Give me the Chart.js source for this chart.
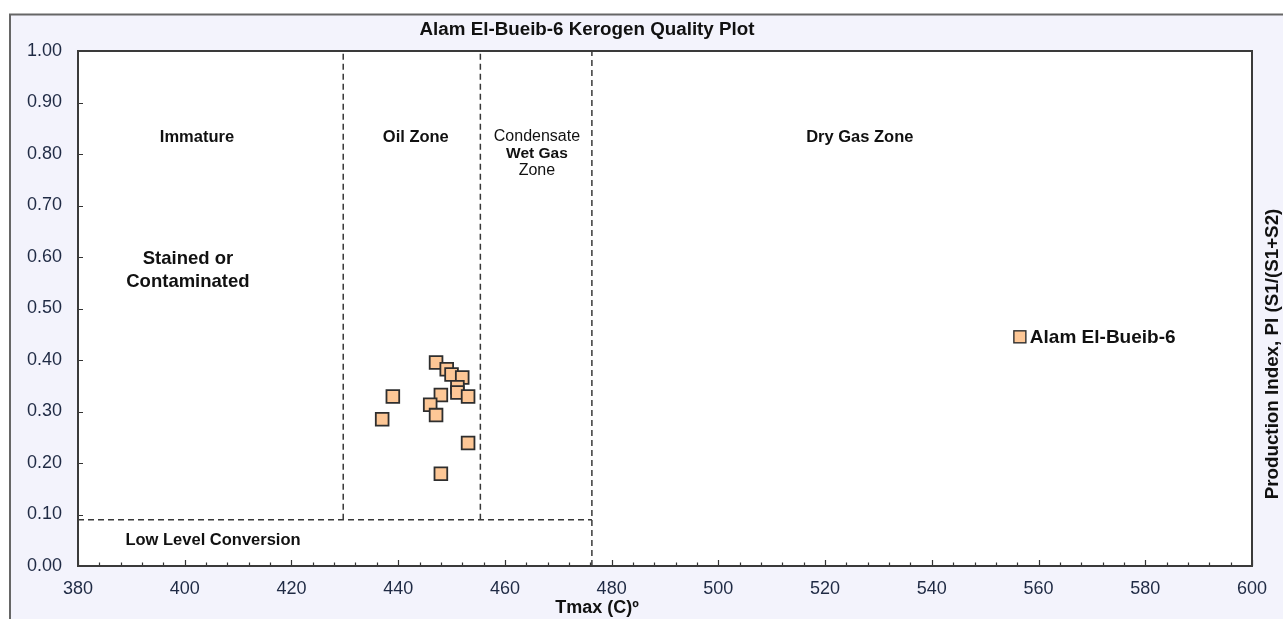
<!DOCTYPE html>
<html>
<head>
<meta charset="utf-8">
<script src="https://cdn.jsdelivr.net/npm/chart.js@4.4.0/dist/chart.umd.min.js"></script>
<style>
  html, body { margin: 0; padding: 0; background: #ffffff; }
  #wrap { width: 1283px; height: 619px; }
</style>
</head>
<body>
<div id="wrap"><canvas id="plot" width="1283" height="619"></canvas></div>
<script>
// Sample measurements, Alam El-Bueib-6
const tmaxValues = [447.1, 449.1, 450.0, 452.0, 451.1, 451.1, 453.1, 448.0, 439.0, 446.0, 447.1, 437.0, 453.1, 448.0];
const piValues   = [0.395, 0.382, 0.372, 0.366, 0.347, 0.337, 0.329, 0.332, 0.329, 0.313, 0.293, 0.285, 0.239, 0.179];

// Maturity zone limits (Tmax, °C) and low-conversion PI cut-off
const zoneBoundaries = [429.7, 455.4, 476.3];
const lowConversionPI = 0.09;

// Axis ranges and tick steps
const tmaxRange = [380, 600];
const tmaxStep = 20;
const tmaxMinorStep = 4;
const piRange = [0, 1];
const piStep = 0.1;

const seriesName = 'Alam El-Bueib-6';
const chartTitle = 'Alam El-Bueib-6 Kerogen Quality Plot';
const xTitle = 'Tmax (C)º';
const yTitle = 'Production Index, PI (S1/(S1+S2)';

const FONT = '"Liberation Sans", Arial, sans-serif';
const TICK_COLOR = '#1f2a44';
const LINE_COLOR = '#383838';
const MARKER_FILL = '#fdc796';
const MARKER_EDGE = '#2e2e2e';

// Zone annotations, anchored in data units
const zoneLabels = [
  { lines: [['Immature', 'bold 16.5px']], x: 402.3, y: 0.833 },
  { lines: [['Oil Zone', 'bold 16.5px']], x: 443.3, y: 0.833 },
  { lines: [['Condensate', '16px'], ['Wet Gas', 'bold 15.5px'], ['Zone', '16px']], x: 466.0, y: 0.833, lineGap: 17 },
  { lines: [['Dry Gas Zone', 'bold 16.5px']], x: 526.5, y: 0.833 },
  { lines: [['Stained or', 'bold 18.5px'], ['Contaminated', 'bold 18.5px']], x: 400.6, y: 0.596, lineGap: 23 },
  { lines: [['Low Level Conversion', 'bold 16.5px']], x: 405.3, y: 0.05 }
];

const points = tmaxValues.map((t, i) => ({ x: t, y: piValues[i] }));

// Dashed zone boundary segments
const boundarySets = [
  [{ x: zoneBoundaries[0], y: lowConversionPI }, { x: zoneBoundaries[0], y: piRange[1] }],
  [{ x: zoneBoundaries[1], y: lowConversionPI }, { x: zoneBoundaries[1], y: piRange[1] }],
  [{ x: zoneBoundaries[2], y: piRange[0] }, { x: zoneBoundaries[2], y: piRange[1] }],
  [{ x: tmaxRange[0], y: lowConversionPI }, { x: zoneBoundaries[2], y: lowConversionPI }]
].map(seg => ({
  type: 'line',
  data: seg,
  borderColor: LINE_COLOR,
  borderWidth: 1.5,
  borderDash: [6, 4],
  pointRadius: 0,
  fill: false,
  order: 1
}));

const decorations = {
  id: 'decorations',
  beforeDraw(chart) {
    const ctx = chart.ctx;
    const a = chart.chartArea;
    ctx.save();
    ctx.fillStyle = '#ffffff';
    ctx.fillRect(0, 0, chart.width, chart.height);
    // outer frame
    ctx.fillStyle = '#f3f3fc';
    ctx.fillRect(10, 14.5, chart.width - 10, chart.height - 14.5);
    ctx.strokeStyle = '#666666';
    ctx.lineWidth = 2;
    ctx.beginPath();
    ctx.moveTo(10, chart.height + 2);
    ctx.lineTo(10, 14.5);
    ctx.lineTo(chart.width + 2, 14.5);
    ctx.stroke();
    // plot area
    ctx.fillStyle = '#ffffff';
    ctx.fillRect(a.left, a.top, a.right - a.left, a.bottom - a.top);
    ctx.restore();
  },
  beforeDatasetsDraw(chart) {
    const ctx = chart.ctx;
    ctx.save();
    ctx.fillStyle = '#111111';
    ctx.textAlign = 'center';
    ctx.textBaseline = 'middle';
    const xs = chart.scales.x, ys = chart.scales.y;
    zoneLabels.forEach(lab => {
      const cx = xs.getPixelForValue(lab.x);
      const cy = ys.getPixelForValue(lab.y);
      const gap = lab.lineGap || 0;
      lab.lines.forEach(([txt, f], i) => {
        ctx.font = f + ' ' + FONT;
        ctx.fillText(txt, cx, cy + i * gap);
      });
    });
    ctx.restore();
  },
  afterDraw(chart) {
    const ctx = chart.ctx;
    const a = chart.chartArea;
    const xs = chart.scales.x, ys = chart.scales.y;
    ctx.save();
    // tick marks pointing into the plot
    ctx.strokeStyle = '#333333';
    ctx.lineWidth = 1.2;
    ctx.beginPath();
    for (let v = tmaxRange[0]; v <= tmaxRange[1] + 1e-6; v += tmaxMinorStep) {
      const px = Math.round(xs.getPixelForValue(v)) + 0.5;
      const major = Math.abs((v - tmaxRange[0]) % tmaxStep) < 1e-6;
      ctx.moveTo(px, a.bottom);
      ctx.lineTo(px, a.bottom - (major ? 6 : 3.5));
    }
    for (let v = piRange[0]; v <= piRange[1] + 1e-6; v += piStep) {
      const py = Math.round(ys.getPixelForValue(v)) + 0.5;
      ctx.moveTo(a.left, py);
      ctx.lineTo(a.left + 5, py);
    }
    ctx.stroke();
    // plot border
    ctx.strokeStyle = '#3a3a3a';
    ctx.lineWidth = 2;
    ctx.strokeRect(a.left, a.top, a.right - a.left, a.bottom - a.top);

    // title and axis titles
    ctx.fillStyle = '#111111';
    ctx.textAlign = 'center';
    ctx.textBaseline = 'middle';
    ctx.font = 'bold 18.8px ' + FONT;
    ctx.fillText(chartTitle, 587, 30);
    ctx.font = 'bold 18px ' + FONT;
    ctx.fillText(xTitle, 597, 608);
    ctx.save();
    ctx.translate(1273, 354);
    ctx.rotate(-Math.PI / 2);
    ctx.font = 'bold 18.8px ' + FONT;
    ctx.fillText(yTitle, 0, 0);
    ctx.restore();

    // legend
    const lx = xs.getPixelForValue(556.5);
    const ly = ys.getPixelForValue(0.445);
    ctx.fillStyle = MARKER_FILL;
    ctx.strokeStyle = MARKER_EDGE;
    ctx.lineWidth = 1.4;
    ctx.fillRect(lx - 6, ly - 6, 12, 12);
    ctx.strokeRect(lx - 6, ly - 6, 12, 12);
    ctx.fillStyle = '#111111';
    ctx.textAlign = 'left';
    ctx.font = 'bold 19px ' + FONT;
    ctx.fillText(seriesName, lx + 10, ly + 1);
    ctx.restore();
  }
};

new Chart(document.getElementById('plot'), {
  type: 'scatter',
  data: {
    datasets: [
      {
        label: seriesName,
        data: points,
        pointStyle: 'rect',
        pointRadius: 9,
        pointHoverRadius: 9,
        backgroundColor: MARKER_FILL,
        borderColor: MARKER_EDGE,
        borderWidth: 1.8,
        order: 0
      },
      ...boundarySets
    ]
  },
  options: {
    responsive: false,
    animation: false,
    devicePixelRatio: 1,
    layout: { padding: { left: 0, top: 51, right: 31, bottom: 0 } },
    plugins: {
      legend: { display: false },
      tooltip: { enabled: false },
      title: { display: false }
    },
    scales: {
      x: {
        type: 'linear',
        min: tmaxRange[0],
        max: tmaxRange[1],
        ticks: {
          stepSize: tmaxStep,
          color: TICK_COLOR,
          font: { family: FONT, size: 18 },
          padding: 12,
          maxRotation: 0
        },
        grid: { display: false, drawTicks: false },
        border: { display: false },
        afterFit(s) { s.height = 53; }
      },
      y: {
        type: 'linear',
        min: piRange[0],
        max: piRange[1],
        ticks: {
          stepSize: piStep,
          color: TICK_COLOR,
          font: { family: FONT, size: 18 },
          padding: 16,
          callback: v => v.toFixed(2)
        },
        grid: { display: false, drawTicks: false },
        border: { display: false },
        afterFit(s) { s.width = 78; }
      }
    }
  },
  plugins: [decorations]
});
</script>
</body>
</html>
